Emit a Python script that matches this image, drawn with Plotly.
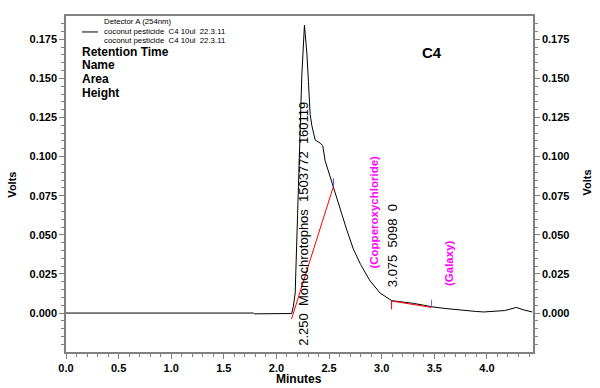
import plotly.graph_objects as go

# ---- chromatogram data (minutes, volts) ----
time_min = [0.00, 1.78, 1.79, 2.13, 2.145, 2.16, 2.178, 2.209, 2.241, 2.266, 2.289, 2.304,
            2.320, 2.336, 2.368, 2.415, 2.440, 2.462, 2.510, 2.541, 2.605, 2.669, 2.730,
            2.800, 2.890, 2.985, 3.096, 3.200, 3.300, 3.400, 3.476, 3.620, 3.770, 3.900,
            3.970, 4.100, 4.170, 4.280, 4.350, 4.430]
volts = [0.0000, 0.0000, -0.0005, -0.0005, -0.0003, 0.0040, 0.0128, 0.0810, 0.1520, 0.1840,
         0.1660, 0.1480, 0.1270, 0.1200, 0.1106, 0.1087, 0.1070, 0.0975, 0.0870, 0.0808,
         0.0670, 0.0530, 0.0410, 0.0310, 0.0205, 0.0128, 0.0079, 0.0072, 0.0062, 0.0050,
         0.0040, 0.0028, 0.0016, 0.0010, 0.0007, 0.0011, 0.0016, 0.0036, 0.0020, 0.0007]

# integration baselines (red) and peak-end markers (blue)
base1_t = [2.143, 2.541]
base1_v = [-0.0038, 0.0808]
base2_t = [3.094, 3.474]
base2_v = [0.0077, 0.0036]
start2_t = [3.094, 3.094]
start2_v = [0.0077, 0.0023]
end1_t = [2.541, 2.541]
end1_v = [0.0808, 0.0862]
end2_t = [3.474, 3.474]
end2_v = [0.0036, 0.0085]

# peak labels
peak_labels = ["2.250\u00a0\u00a0Monochrotophos\u00a0\u00a01503772\u00a0\u00a0160119",
               "3.075\u00a0\u00a05098\u00a0\u00a00"]
peak_label_t = [2.254, 3.099]
peak_label_v = [0.0572, 0.0428]
name_labels = ["(Copperoxychloride)", "(Galaxy)"]
name_label_t = [2.928, 3.640]
name_label_v = [0.0643, 0.0320]

x_range = [0, 4.438]
y_range = [-0.0249, 0.1899]

FONT = "Liberation Sans, Arial, sans-serif"
AXC = "#808080"

fig = go.Figure()
fig.add_trace(go.Scatter(x=time_min, y=volts, mode="lines",
                         line=dict(color="black", width=1), showlegend=False))
for tx, vy, col in [(base1_t, base1_v, "red"), (base2_t, base2_v, "red"),
                    (start2_t, start2_v, "red"), (end1_t, end1_v, "#4444ff"),
                    (end2_t, end2_v, "#6666ff")]:
    fig.add_trace(go.Scatter(x=tx, y=vy, mode="lines", line=dict(color=col, width=1),
                             showlegend=False))
# dummy trace for the right axis
fig.add_trace(go.Scatter(x=[None], y=[None], yaxis="y2", showlegend=False))

tickfont = dict(family=FONT, size=11, color="black", weight="bold")
minor_y = dict(dtick=0.005, ticklen=3, ticks="outside", tickcolor=AXC)

fig.update_layout(
    width=600, height=388,
    margin=dict(l=66, r=67, t=16, b=36),
    paper_bgcolor="white", plot_bgcolor="white",
    xaxis=dict(range=x_range, dtick=0.5, tick0=0, tickformat=".1f",
               showgrid=False, zeroline=False, showline=True, linecolor=AXC, linewidth=1.5,
               mirror=True, ticks="outside", ticklen=5, tickcolor=AXC, tickfont=tickfont,
               minor=dict(dtick=0.1, ticklen=3, ticks="outside", tickcolor=AXC)),
    yaxis=dict(range=y_range, dtick=0.025, tick0=0, tickformat=".3f",
               showgrid=False, zeroline=False, showline=True, linecolor=AXC, linewidth=1.5,
               ticks="outside", ticklen=5, tickcolor=AXC, tickfont=tickfont, minor=minor_y),
    yaxis2=dict(range=y_range, dtick=0.025, tick0=0, tickformat=".3f", overlaying="y",
                side="right", showgrid=False, zeroline=False, showline=True, linecolor=AXC,
                linewidth=1.5, ticks="outside", ticklen=5, tickcolor=AXC, tickfont=tickfont,
                minor=minor_y),
)

def ann(text, x, y, size, xref="paper", yref="paper", bold=False, color="black",
        angle=0, xanchor="center", yanchor="middle"):
    fig.add_annotation(text=text, x=x, y=y, xref=xref, yref=yref, showarrow=False,
                       textangle=angle, xanchor=xanchor, yanchor=yanchor,
                       font=dict(family=FONT, size=size, color=color,
                                 weight="bold" if bold else "normal"))

# axis titles
ann("Volts", -0.115, 0.499, 11, bold=True, angle=-90)
ann("Volts", 1.116, 0.505, 11, bold=True, angle=-90)
ann("Minutes", 0.4979, -0.080, 12, bold=True)

# legend block
ann("Detector A (254nm)", 0.0775, 0.985, 7.8, xanchor="left")
ann("coconut pesticide\u00a0\u00a0C4 10ul\u00a0\u00a022.3.11", 0.0775, 0.9525, 7.8, xanchor="left")
ann("coconut pesticide\u00a0\u00a0C4 10ul\u00a0\u00a022.3.11", 0.0775, 0.926, 7.8, xanchor="left")
fig.add_shape(type="line", xref="paper", yref="paper", x0=0.0343, x1=0.0685,
              y0=0.9525, y1=0.9525, line=dict(color="black", width=1))
for txt, yy in zip(["Retention Time", "Name", "Area", "Height"], [0.893, 0.853, 0.812, 0.772]):
    ann(txt, 0.031, yy, 12, bold=True, xanchor="left")
ann("C4", 0.784, 0.890, 15, bold=True)

# peak annotations
for txt, tx, vy in zip(peak_labels, peak_label_t, peak_label_v):
    ann(txt, tx, vy, 13, xref="x", yref="y", angle=-90)
for txt, tx, vy in zip(name_labels, name_label_t, name_label_v):
    ann(txt, tx, vy, 11.5, xref="x", yref="y", bold=True, color="#ff00ff", angle=-90)

fig.write_html("out.html", config={"displayModeBar": False},
               post_script="document.body.style.margin='0';")
